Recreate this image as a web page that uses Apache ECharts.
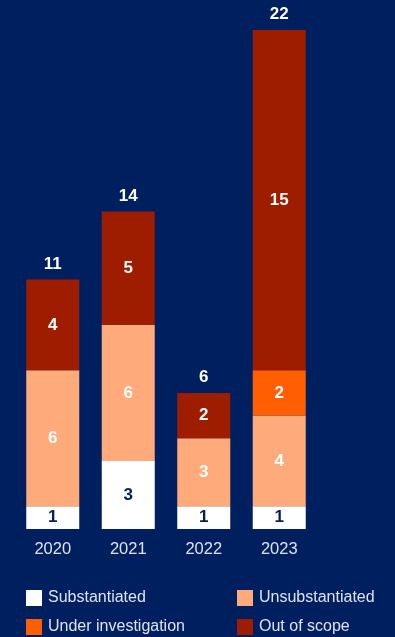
<!DOCTYPE html>
<html>
<head>
<meta charset="utf-8">
<script src="https://cdn.jsdelivr.net/npm/echarts@6/dist/echarts.min.js"></script>
<style>
  html, body { margin: 0; padding: 0; background: #001f5f; }
  #chart { width: 395px; height: 637px; }
</style>
</head>
<body>
<div id="chart"></div>
<script>
// complaint outcomes per year
var years = ['2020', '2021', '2022', '2023'];
var substantiated = [1, 3, 1, 1];
var unsubstantiated = [6, 6, 3, 4];
var underInvestigation = [0, 0, 0, 2];
var outOfScope = [4, 5, 2, 15];
var totals = [11, 14, 6, 22];

var FONT = '"Liberation Sans", Arial, sans-serif';

function seg(name, data, color, textColor) {
    return {
        name: name,
        type: 'bar',
        stack: 'all',
        barWidth: 53,
        data: data,
        itemStyle: { color: color },
        label: {
            show: true,
            position: 'inside',
            color: textColor,
            fontFamily: FONT,
            fontWeight: 'bold',
            fontSize: 17,
            formatter: function (p) { return p.value ? String(p.value) : ''; }
        }
    };
}

var chart = echarts.init(document.getElementById('chart'));

function legendAt(name, left, top) {
    return {
        data: [name],
        left: left,
        top: top,
        padding: 0,
        itemWidth: 16,
        itemHeight: 16,
        icon: 'rect',
        selectedMode: false,
        textStyle: { color: '#dde2ee', fontSize: 16, fontFamily: FONT, padding: [2, 0, 0, 1] }
    };
}

chart.setOption({
    backgroundColor: '#001f5f',
    animation: false,
    grid: { left: 15, width: 302, top: 30, bottom: 108 },
    legend: [
        legendAt('Substantiated', 26, 590),
        legendAt('Unsubstantiated', 237, 590),
        legendAt('Under investigation', 26, 619),
        legendAt('Out of scope', 237, 619)
    ],
    xAxis: {
        type: 'category',
        data: years,
        axisLine: { show: false },
        axisTick: { show: false },
        axisLabel: { color: '#dde2ee', fontSize: 16.5, fontFamily: FONT, margin: 12 }
    },
    yAxis: {
        type: 'value',
        min: 0,
        max: 22,
        show: false,
        splitLine: { show: false }
    },
    series: [
        seg('Substantiated', substantiated, '#ffffff', '#001f5f'),
        seg('Unsubstantiated', unsubstantiated, '#ffaa7b', '#ffffff'),
        seg('Under investigation', underInvestigation, '#ff5f00', '#ffffff'),
        seg('Out of scope', outOfScope, '#9e1c00', '#ffffff'),
        {
            name: 'Total',
            type: 'bar',
            stack: 'all',
            barWidth: 53,
            data: totals.map(function () { return 0; }),
            itemStyle: { color: 'transparent' },
            label: {
                show: true,
                position: 'top',
                distance: 7,
                color: '#ffffff',
                fontFamily: FONT,
                fontWeight: 'bold',
                fontSize: 17,
                formatter: function (p) { return String(totals[p.dataIndex]); }
            }
        }
    ]
});
</script>
</body>
</html>
